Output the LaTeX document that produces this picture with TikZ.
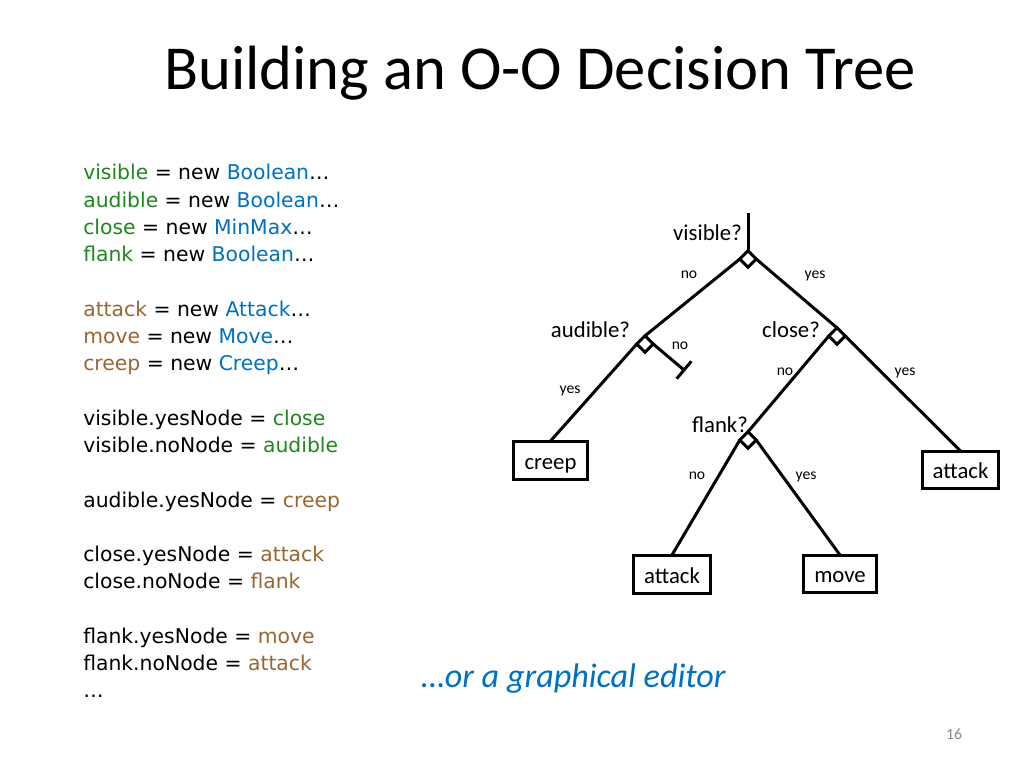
\documentclass[tikz,border=0pt]{standalone}
\usepackage{fontspec}
\setmainfont{Carlito}
\newfontfamily\codefont{DejaVu Sans}
\usetikzlibrary{shapes.geometric,calc}
\definecolor{cgreen}{RGB}{30,135,30}
\definecolor{cblue}{RGB}{0,112,192}
\definecolor{cbrown}{RGB}{153,102,51}
\definecolor{cgray}{RGB}{137,137,137}
\tikzset{
  codeline/.style={anchor=base west,inner sep=0pt,font=\codefont\fontsize{14.3}{19}\selectfont},
  qlabel/.style={anchor=base,inner sep=0pt,font=\fontsize{16}{19}\selectfont},
  blabel/.style={anchor=base,inner sep=0pt,font=\fontsize{11}{13}\selectfont},
  junction/.style={draw,shape=diamond,line width=2.1pt,minimum width=11.5pt,minimum height=11.5pt,inner sep=0pt,outer sep=0pt},
  leafbox/.style={draw,line width=2.1pt,inner sep=0pt,outer sep=0pt,text height=12.6pt,text depth=0pt,font=\fontsize{16}{19}\selectfont},
  branch/.style={line width=2.1pt},
}
\begin{document}
\begin{tikzpicture}[x=0.703125pt,y=-0.703125pt]
\useasboundingbox (0,0) rectangle (1024,768);
\fill[white] (0,0) rectangle (1024,768);
% title
\node[anchor=base,inner sep=0pt,font=\fontsize{44}{53}\selectfont] (title) at (540,90) {Building an O-O Decision Tree};
% code
\def\lh{27.25}
\node[codeline] (c0) at (83,180+0*\lh) {\textcolor{cgreen}{visible} = new \textcolor{cblue}{Boolean}…};
\node[codeline] (c1) at (83,180+1*\lh) {\textcolor{cgreen}{audible} = new \textcolor{cblue}{Boolean}…};
\node[codeline] (c2) at (83,180+2*\lh) {\textcolor{cgreen}{close} = new \textcolor{cblue}{MinMax}…};
\node[codeline] (c3) at (83,180+3*\lh) {\textcolor{cgreen}{flank} = new \textcolor{cblue}{Boolean}…};
\node[codeline] (c5) at (83,180+5*\lh) {\textcolor{cbrown}{attack} = new \textcolor{cblue}{Attack}…};
\node[codeline] (c6) at (83,180+6*\lh) {\textcolor{cbrown}{move} = new \textcolor{cblue}{Move}…};
\node[codeline] (c7) at (83,180+7*\lh) {\textcolor{cbrown}{creep} = new \textcolor{cblue}{Creep}…};
\node[codeline] (c9) at (83,180+9*\lh) {visible.yesNode = \textcolor{cgreen}{close}};
\node[codeline] (c10) at (83,180+10*\lh) {visible.noNode = \textcolor{cgreen}{audible}};
\node[codeline] (c12) at (83,180+12*\lh) {audible.yesNode = \textcolor{cbrown}{creep}};
\node[codeline] (c14) at (83,180+14*\lh) {close.yesNode = \textcolor{cbrown}{attack}};
\node[codeline] (c15) at (83,180+15*\lh) {close.noNode = \textcolor{cbrown}{flank}};
\node[codeline] (c17) at (83,180+17*\lh) {flank.yesNode = \textcolor{cbrown}{move}};
\node[codeline] (c18) at (83,180+18*\lh) {flank.noNode = \textcolor{cbrown}{attack}};
\node[codeline] (c19) at (83,180+19*\lh) {…};
% tree
\coordinate (root) at (748,213);
\node[junction] (vis) at (748,259) {};
\node[junction] (aud) at (645,344) {};
\node[junction] (clo) at (837,336) {};
\node[junction] (fla) at (748,440) {};
\coordinate (tend) at (684,370);
\node[leafbox,minimum width=52.7pt,minimum height=27.4pt] (creep) at (550.5,460.5) {creep};
\node[leafbox,minimum width=54.1pt,minimum height=26.7pt] (att1) at (960.5,470) {attack};
\node[leafbox,minimum width=54.8pt,minimum height=27.4pt] (att2) at (672,574.5) {attack};
\node[leafbox,minimum width=52.0pt,minimum height=26.7pt] (move) at (840,574) {move};
\draw[branch] (root) -- (vis.north);
\draw[branch] (vis.west) -- (aud.north);
\draw[branch] (vis.east) -- (clo.north);
\draw[branch] (aud.west) -- (creep.north);
\draw[branch] (aud.east) -- (tend);
\draw[branch] ($(tend)!8pt!90:(aud.east)$) -- ($(tend)!8pt!-90:(aud.east)$);
\draw[branch] (clo.west) -- (fla.north);
\draw[branch] (clo.east) -- (att1.north);
\draw[branch] (fla.west) -- (att2.north);
\draw[branch] (fla.east) -- (move.north);
% labels
\node[qlabel] (lvis) at (707.5,241) {visible?};
\node[qlabel] (laud) at (590.5,337) {audible?};
\node[qlabel] (lclo) at (791,337) {close?};
\node[qlabel] (lfla) at (720,432) {flank?};
\node[blabel] (n1) at (689,279) {no};
\node[blabel] (y1) at (815,279) {yes};
\node[blabel] (n2) at (680,349) {no};
\node[blabel] (y2) at (570,393) {yes};
\node[blabel] (n3) at (785,375) {no};
\node[blabel] (y3) at (905,375) {yes};
\node[blabel] (n4) at (697,479) {no};
\node[blabel] (y4) at (806,479) {yes};
% footer
\node[anchor=base,inner sep=0pt,text=cblue,font=\itshape\fontsize{24}{29}\selectfont] (editor) at (573.5,687) {…or a graphical editor};
\node[anchor=base,inner sep=0pt,text=cgray,font=\fontsize{11}{13}\selectfont] (pnum) at (954,739) {16};
\end{tikzpicture}
\end{document}
